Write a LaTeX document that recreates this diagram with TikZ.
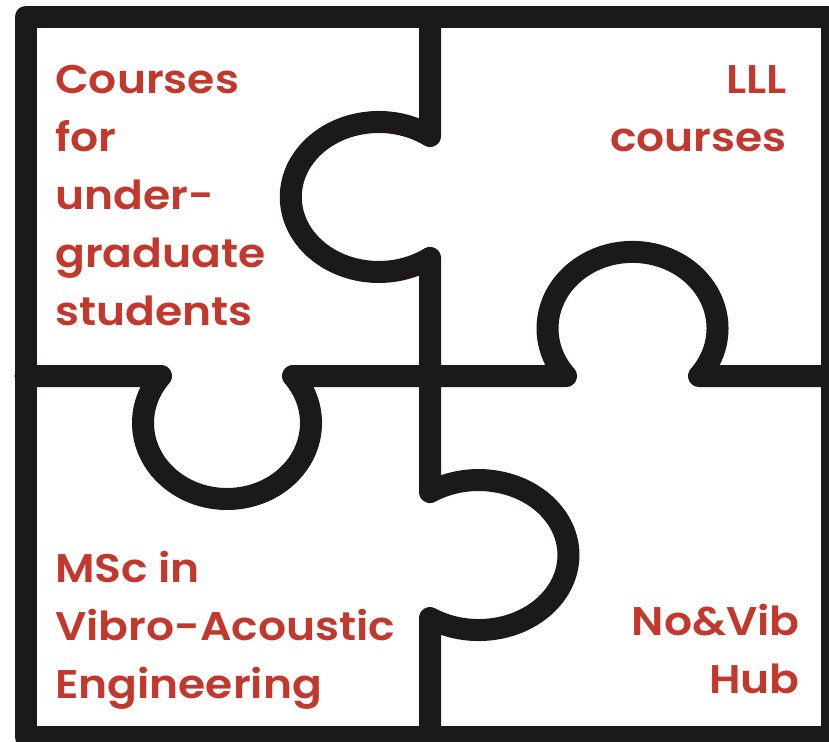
\documentclass[tikz,border=0pt]{standalone}
\usepackage{fontspec}
\setmainfont{Poppins}[BoldFont={Poppins SemiBold},FakeStretch=1.1]
\definecolor{puzzlered}{RGB}{195,56,44}
\definecolor{puzzleblack}{RGB}{27,25,25}
\tikzset{
  seam/.style={draw=puzzleblack,line width=22pt,line join=round,line cap=round},
  txt/.style={text=puzzlered,font=\bfseries\fontsize{40}{58}\selectfont,inner sep=0pt}
}
\begin{document}
\begin{tikzpicture}[x=1pt,y=1pt]
\useasboundingbox (0,0) rectangle (829,-741);
\clip (0,0) rectangle (829,-741);
% frame
\draw[seam] (25.5,-17) rectangle (832,-737);
% vertical seam, knob to the left
\draw[seam] (430,-17) -- (430,-136)
  arc[start angle=54.4,end angle=305.6,x radius=88,y radius=75] -- (430,-376);
% horizontal seam, knob up
\draw[seam] (430,-376) -- (566,-376)
  arc[start angle=218.5,end angle=-38.5,x radius=85,y radius=76.5] -- (832,-376);
% horizontal seam, knob down
\draw[seam] (25.5,-376) -- (161,-376)
  arc[start angle=141.8,end angle=398.2,x radius=84,y radius=76] -- (430,-376);
% vertical seam, knob to the right
\draw[seam] (430,-376) -- (430,-492)
  arc[start angle=122.8,end angle=-122.8,x radius=89.8,y radius=75] -- (430,-737);
% texts (anchored on the last line)
\node[txt,anchor=base west,align=left] (ug) at (55,-325) {Courses\\for\\under-\\graduate\\students};
\node[txt,anchor=base east,align=right] (lll) at (787,-151) {LLL\\courses};
\node[txt,anchor=base west,align=left] (msc) at (55,-698) {MSc in\\Vibro-Acoustic\\Engineering};
\node[txt,anchor=base east,align=right] (hub) at (800,-693) {No\&Vib\\Hub};
\end{tikzpicture}
\end{document}
